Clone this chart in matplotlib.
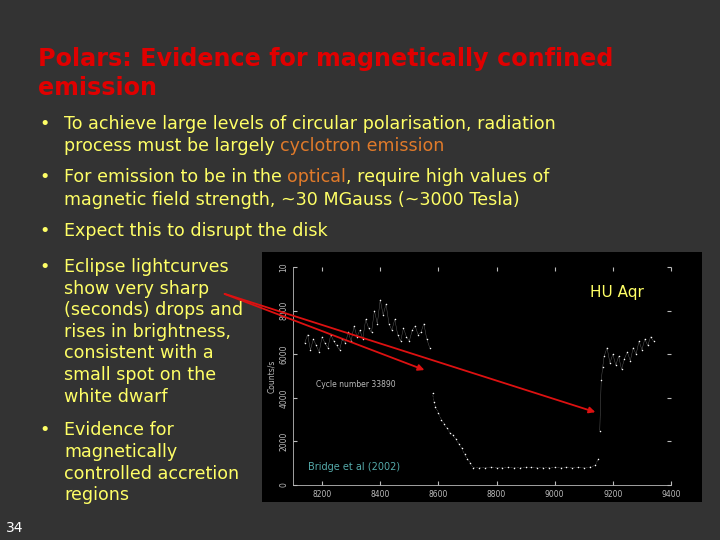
import matplotlib
matplotlib.use("Agg")
import matplotlib.pyplot as plt

BG = "#333333"; YEL = "#ffff66"; RED = "#e00000"; ORA = "#e07a2a"

# light curve data (time, counts/s)
pre_t = [8140,8150,8160,8170,8180,8190,8200,8210,8220,8230,8240,8250,8260,8270,8280,8290,8300,8310,8320,8330,8340,8350,8360,8370,8380,8390,8400,8410,8420,8430,8440,8450,8460,8470,8480,8490,8500,8510,8520,8530,8540,8550,8560,8570]
pre_c = [6500,6900,6200,6700,6400,6100,6800,6500,6300,6900,6600,6400,6200,6700,6500,7000,6600,7300,6800,7100,6700,7600,7200,7000,8000,7400,8500,7800,8300,7400,7100,7600,6900,6600,7200,6800,6600,7100,7300,6900,7000,7400,6700,6300]
ecl_t = [8580,8585,8590,8600,8610,8620,8630,8640,8650,8660,8670,8680,8690,8700,8710,8720,8740,8760,8780,8800,8820,8840,8860,8880,8900,8920,8940,8960,8980,9000,9020,9040,9060,9080,9100,9120,9140,9150]
ecl_c = [4200,3800,3600,3300,3000,2800,2600,2400,2300,2100,1900,1700,1400,1200,1000,800,800,800,820,800,790,810,800,800,820,810,800,790,800,810,800,820,800,810,800,820,900,1200]
post_t = [9155,9160,9165,9170,9180,9190,9200,9210,9220,9230,9240,9250,9260,9270,9280,9290,9300,9310,9320,9330,9340]
post_c = [2500,4800,5400,5900,6300,5600,6000,5500,5900,5300,5800,6100,5700,6300,6000,6600,6200,6700,6400,6800,6600]

fig = plt.figure(figsize=(7.2, 5.4), dpi=100, facecolor=BG)
FS = 12.6

def line_segments(x, y, segs, size=FS):
    r = fig.canvas.get_renderer()
    cx = x
    for s, c in segs:
        t = fig.text(cx, y, s, color=c, fontsize=size, family="DejaVu Sans", va="baseline")
        bb = t.get_window_extent(renderer=r)
        cx += bb.width / 720

H = 540
def fy(py): return 1 - py / H

fig.text(38/720, fy(66), "Polars: Evidence for magnetically confined", color=RED, fontsize=17.2, weight="bold", family="DejaVu Sans", va="baseline")
fig.text(38/720, fy(95), "emission", color=RED, fontsize=17.2, weight="bold", family="DejaVu Sans", va="baseline")

bul = lambda py: fig.text(39/720, fy(py), "•", color=YEL, fontsize=FS, va="baseline")
bul(129); line_segments(64/720, fy(129), [("To achieve large levels of circular polarisation, radiation", YEL)])
line_segments(64/720, fy(151), [("process must be largely ", YEL), ("cyclotron emission", ORA)])
bul(182); line_segments(64/720, fy(182), [("For emission to be in the ", YEL), ("optical", ORA), (", require high values of", YEL)])
line_segments(64/720, fy(205), [("magnetic field strength, ~30 MGauss (~3000 Tesla)", YEL)])
bul(236); line_segments(64/720, fy(236), [("Expect this to disrupt the disk", YEL)])
lines4 = ["Eclipse lightcurves", "show very sharp", "(seconds) drops and", "rises in brightness,", "consistent with a", "small spot on the", "white dwarf"]
bul(272)
for i, s in enumerate(lines4):
    line_segments(64/720, fy(272 + i*21.6), [(s, YEL)])
lines5 = ["Evidence for", "magnetically", "controlled accretion", "regions"]
bul(435)
for i, s in enumerate(lines5):
    line_segments(64/720, fy(435 + i*21.8), [(s, YEL)])
fig.text(6/720, fy(532), "34", color="white", fontsize=10, va="baseline")

# inset panel background
panel = fig.add_axes([262/720, 1-502/H, 440/720, 250/H])
panel.set_facecolor("black"); panel.set_xticks([]); panel.set_yticks([])
for s in panel.spines.values(): s.set_visible(False)

ax = fig.add_axes([293/720, 1-485/H, 378/720, 218/H])
ax.set_facecolor("black")
ax.scatter(pre_t + ecl_t + post_t, pre_c + ecl_c + post_c, s=1.2, c="white", lw=0)
ax.plot(pre_t, pre_c, color="white", lw=0.3, alpha=0.4)
ax.plot(post_t, post_c, color="white", lw=0.3, alpha=0.4)
ax.plot(ecl_t, ecl_c, color="white", lw=0.4, alpha=0.6, ls=":")
ax.set_xlim(8100, 9400); ax.set_ylim(0, 10000)
ax.set_xticks([8200, 8400, 8600, 8800, 9000, 9200, 9400])
ax.set_xticklabels(["8200", "8400", "8600", "8800", "9000", "9200", "9400"])
ax.set_yticks([0, 2000, 4000, 6000, 8000, 10000])
ax.set_yticklabels(["0", "2000", "4000", "6000", "8000", "10"], rotation=90, va="center")
ax.tick_params(colors="#bbbbbb", labelsize=5.5, direction="in", length=3, top=True, right=True)
ax.set_ylabel("Counts/s", color="#bbbbbb", fontsize=5.5, labelpad=2)
for s in ["top", "right"]: ax.spines[s].set_visible(False)
for s in ["bottom", "left"]: ax.spines[s].set_color("#bbbbbb"); ax.spines[s].set_linewidth(0.6)
ax.text(0.06, 0.45, "Cycle number 33890", transform=ax.transAxes, color="#bbbbbb", fontsize=5.5)
ax.text(0.04, 0.07, "Bridge et al (2002)", transform=ax.transAxes, color="#55aaaa", fontsize=7)
fig.text(590/720, fy(297), "HU Aqr", color=YEL, fontsize=11, family="DejaVu Sans", va="baseline")

# red arrows
for (x1, y1) in [(427, 371), (598, 413)]:
    fig.add_artist(matplotlib.patches.FancyArrowPatch((222/720, fy(293)), (x1/720, fy(y1)),
        transform=fig.transFigure, arrowstyle="-|>", mutation_scale=9, color="#dd1111", lw=1.3))

fig.savefig("out.png", dpi=100, facecolor=BG)
